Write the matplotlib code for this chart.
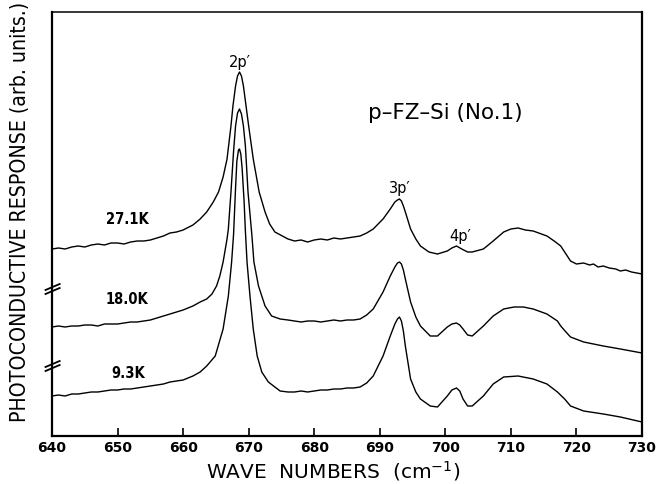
import matplotlib
matplotlib.use("Agg")
import matplotlib.pyplot as plt
from matplotlib import font_manager
from matplotlib.font_manager import FontProperties
import matplotlib.transforms as mtransforms

# ---------------- data ----------------
wn_271 = [640, 641, 642, 643, 644, 645, 646, 647, 648, 649, 650, 651, 652, 653, 654, 655, 656, 657, 658, 659, 660,
          661.5, 662.6, 663.6, 664.6, 665.4, 666.1, 666.7, 667.3, 667.6, 668.0, 668.3, 668.6, 668.9, 669.2, 669.6,
          670.0, 670.7, 671.6, 672.5, 673.2, 674.0, 676, 677, 678, 679, 680, 681, 682, 683, 684, 685, 686, 687,
          688, 689, 690.5, 691.6, 692.3, 692.7, 693.0, 693.3, 693.6, 693.9, 694.7, 695.5, 696.2, 697.5, 698.8,
          700.3, 701.0, 701.7, 702.5, 703.4, 704.1, 705.8, 707.3, 708.9, 710, 711.1, 712.2, 713.4, 715.5, 716.6,
          717.6, 718.4, 719.1, 720, 721.1, 722, 722.6, 723.3, 724.1, 725, 726, 726.7, 727.5, 728.4, 729.2, 730]
resp_271 = [187, 188, 187, 189, 190, 189, 191, 192, 191, 193, 193, 192, 194, 195, 195, 196, 198, 200, 203, 204, 206,
            211, 217, 224, 234, 244, 259, 277, 310, 330, 350, 360, 364, 360, 350, 330,
            310, 277, 244, 224, 212, 204, 197, 195, 196, 194, 196, 197, 196, 198, 197, 198, 199, 200,
            203, 207, 217, 227, 234, 236, 237, 235, 230, 224, 207, 197, 190, 184, 182,
            185, 188, 190, 187, 184, 184, 187, 195, 204, 207, 208, 206, 205, 200, 195,
            190, 182, 175, 172, 173, 171, 172, 169, 170, 168, 167, 165, 166, 164, 163, 162]

wn_180 = [640, 641, 642, 643, 644, 645, 646, 647, 648, 649, 650, 651, 652, 653, 654, 655, 656, 657, 658, 659, 660,
          661.5, 662.6, 663.6, 664.4, 665.1, 665.6, 666.1, 666.7, 666.9, 667.3, 667.7, 668.0, 668.3, 668.6, 668.9,
          669.2, 669.5, 669.9, 670.5, 670.8, 671.5, 672.5, 673.5, 674.8, 676, 677, 678, 679, 680, 681, 682, 683,
          684, 685, 686, 687, 688, 689, 690.5, 691.6, 692.3, 692.7, 693.0, 693.3, 693.6, 693.9, 694.7, 695.5,
          696.2, 697.7, 698.8, 700.3, 701.0, 701.7, 702.2, 702.7, 703.4, 704.1, 705.8, 707.3, 708.9, 710.5, 711.9,
          713.4, 715.5, 717.1, 717.6, 718.4, 719.1, 721.1, 724.1, 726.7, 730]
resp_180 = [109, 110, 109, 110, 110, 111, 111, 110, 112, 112, 112, 113, 114, 114, 115, 116, 118, 120, 122, 124, 126,
            130, 134, 137, 142, 150, 160, 174, 197, 207, 244, 285, 310, 323, 327, 322,
            310, 290, 244, 200, 174, 150, 130, 120, 117, 116, 115, 114, 115, 115, 114, 115, 116,
            115, 116, 116, 117, 121, 127, 144, 160, 169, 173, 174, 172, 166, 157, 134, 119,
            110, 100, 100, 109, 112, 113, 111, 107, 101, 100, 110, 120, 127, 129, 129,
            127, 122, 115, 110, 104, 99, 94, 90, 87, 83]

wn_93 = [640, 641, 642, 643, 644, 645, 646, 647, 648, 649, 650, 651, 652, 653, 654, 655, 656, 657, 658, 659, 660,
         661.5, 662.6, 663.6, 664.9, 666.1, 666.9, 667.4, 667.7, 668.0, 668.2, 668.45, 668.6, 668.8, 669.0, 669.3,
         669.5, 669.75, 670.2, 670.7, 671.3, 672.0, 673.0, 674.8, 676, 677, 678, 679, 680, 681, 682, 683, 684,
         685, 686, 687, 688, 689, 690.5, 691.6, 692.3, 692.7, 693.0, 693.3, 693.6, 693.9, 694.7, 695.5, 696.2,
         697.7, 698.8, 700.3, 701.0, 701.7, 702.2, 702.7, 703.4, 704.1, 705.8, 707.3, 708.9, 711.1, 713.4, 715.5,
         717.1, 718.2, 719.1, 721.1, 724.1, 726.7, 730]
resp_93 = [40, 41, 40, 42, 42, 43, 44, 44, 45, 46, 46, 47, 47, 48, 49, 50, 51, 52, 54, 55, 56,
           60, 64, 70, 80, 107, 140, 174, 202, 248, 275, 286, 287, 282, 268, 235,
           205, 174, 140, 107, 80, 64, 54, 45, 44, 44, 45, 44, 45, 46, 46, 47, 47,
           48, 48, 49, 53, 60, 80, 100, 112, 117, 119, 115, 105, 90, 57, 44, 37,
           30, 29, 40, 46, 48, 45, 37, 30, 30, 40, 52, 59, 60, 57, 52,
           44, 37, 30, 25, 22, 19, 14]

temp_labels = ["27.1K", "18.0K", "9.3K"]
label_pos = [(651.5, 217), (651.5, 137), (651.7, 64)]
peak_labels = ["2p\u2032", "3p\u2032", "4p\u2032"]
peak_pos = [(668.7, 375), (693.1, 249), (702.3, 200)]
breaks_y = [147, 70]
xticks = [640, 650, 660, 670, 680, 690, 700, 710, 720, 730]

# ---------------- fonts: look for a condensed sans face ----------------
def find_condensed(bold=False):
    prefs = ["DejaVu Sans", "Liberation Sans Narrow", "Noto Sans", "Open Sans", "Roboto"]
    best = None
    for f in font_manager.fontManager.ttflist:
        st = str(f.stretch).lower()
        nm = f.name.lower()
        fn = f.fname.lower()
        is_cond = ("condensed" in st or "narrow" in nm or "condensed" in nm or "condensed" in fn
                   or "narrow" in fn)
        if not is_cond or "extra" in fn or "ultra" in fn or "semi" in fn:
            continue
        if f.style != "normal":
            continue
        w = f.weight if isinstance(f.weight, int) else (700 if "bold" in str(f.weight) else 400)
        if bold and w < 600:
            continue
        if not bold and w >= 600:
            continue
        if "light" in fn or "thin" in fn or "medium" in fn or "black" in fn or "oblique" in fn:
            continue
        rank = next((i for i, p in enumerate(prefs) if p.lower() in nm), len(prefs))
        if best is None or rank < best[0]:
            best = (rank, f.fname)
    return best[1] if best else None

cond_reg = find_condensed(False)
cond_bold = find_condensed(True) or cond_reg
HAS_COND = cond_reg is not None
fp_cond = FontProperties(fname=cond_reg) if HAS_COND else FontProperties(family="DejaVu Sans")
fp_cond_b = FontProperties(fname=cond_bold) if HAS_COND else FontProperties(family="DejaVu Sans", weight="bold")

# ---------------- figure ----------------
fig = plt.figure(figsize=(6.58, 4.85), dpi=100)
ax = fig.add_axes([52 / 658, 48 / 485, 590 / 658, 424 / 485])

for wn, r in [(wn_271, resp_271), (wn_180, resp_180), (wn_93, resp_93)]:
    ax.plot(wn, r, color="black", lw=1.0, solid_joinstyle="round")

ax.set_xlim(640, 730)
ax.set_ylim(0, 424)
ax.set_yticks([])
ax.set_xticks(xticks)
ax.set_xticklabels([str(t) for t in xticks], fontsize=10, fontweight="bold", family="DejaVu Sans")
ax.tick_params(axis="x", direction="in", length=6, width=1.2, pad=3, top=False)

for side in ["left", "bottom", "right"]:
    ax.spines[side].set_linewidth(1.6)
ax.spines["top"].set_linewidth(1.1)

# axis break marks on the left spine
trans = mtransforms.blended_transform_factory(ax.transAxes, ax.transData)
for yb in breaks_y:
    for dy in (-2.0, 2.0):
        ax.plot([-0.011, 0.013], [yb + dy - 3, yb + dy + 3], transform=trans,
                color="black", lw=1.3, clip_on=False)

# temperature labels
fp_t = fp_cond_b.copy()
fp_t.set_size(10.5 if HAS_COND else 8.5)
for txt, (x, y) in zip(temp_labels, label_pos):
    ax.text(x, y, txt, ha="center", va="center", fontproperties=fp_t)

# peak labels
for txt, (x, y) in zip(peak_labels, peak_pos):
    ax.text(x, y, txt, ha="center", va="center", fontsize=10.5, family="DejaVu Sans")

ax.text(700, 324, "p\u2013FZ\u2013Si (No.1)", ha="center", va="center", fontsize=15.5, family="DejaVu Sans")

# axis labels
fp_y = fp_cond.copy()
fp_y.set_size(15.2 if HAS_COND else 12.5)
fig.text(20 / 658, 0.563, "PHOTOCONDUCTIVE RESPONSE (arb. units.)", rotation=90,
         ha="center", va="center", fontproperties=fp_y)
fig.text(0.506, 7 / 485, "WAVE  NUMBERS  (cm$^{-1}$)", ha="center", va="baseline",
         fontsize=14.5, family="DejaVu Sans")

fig.savefig("out.png", dpi=100)
